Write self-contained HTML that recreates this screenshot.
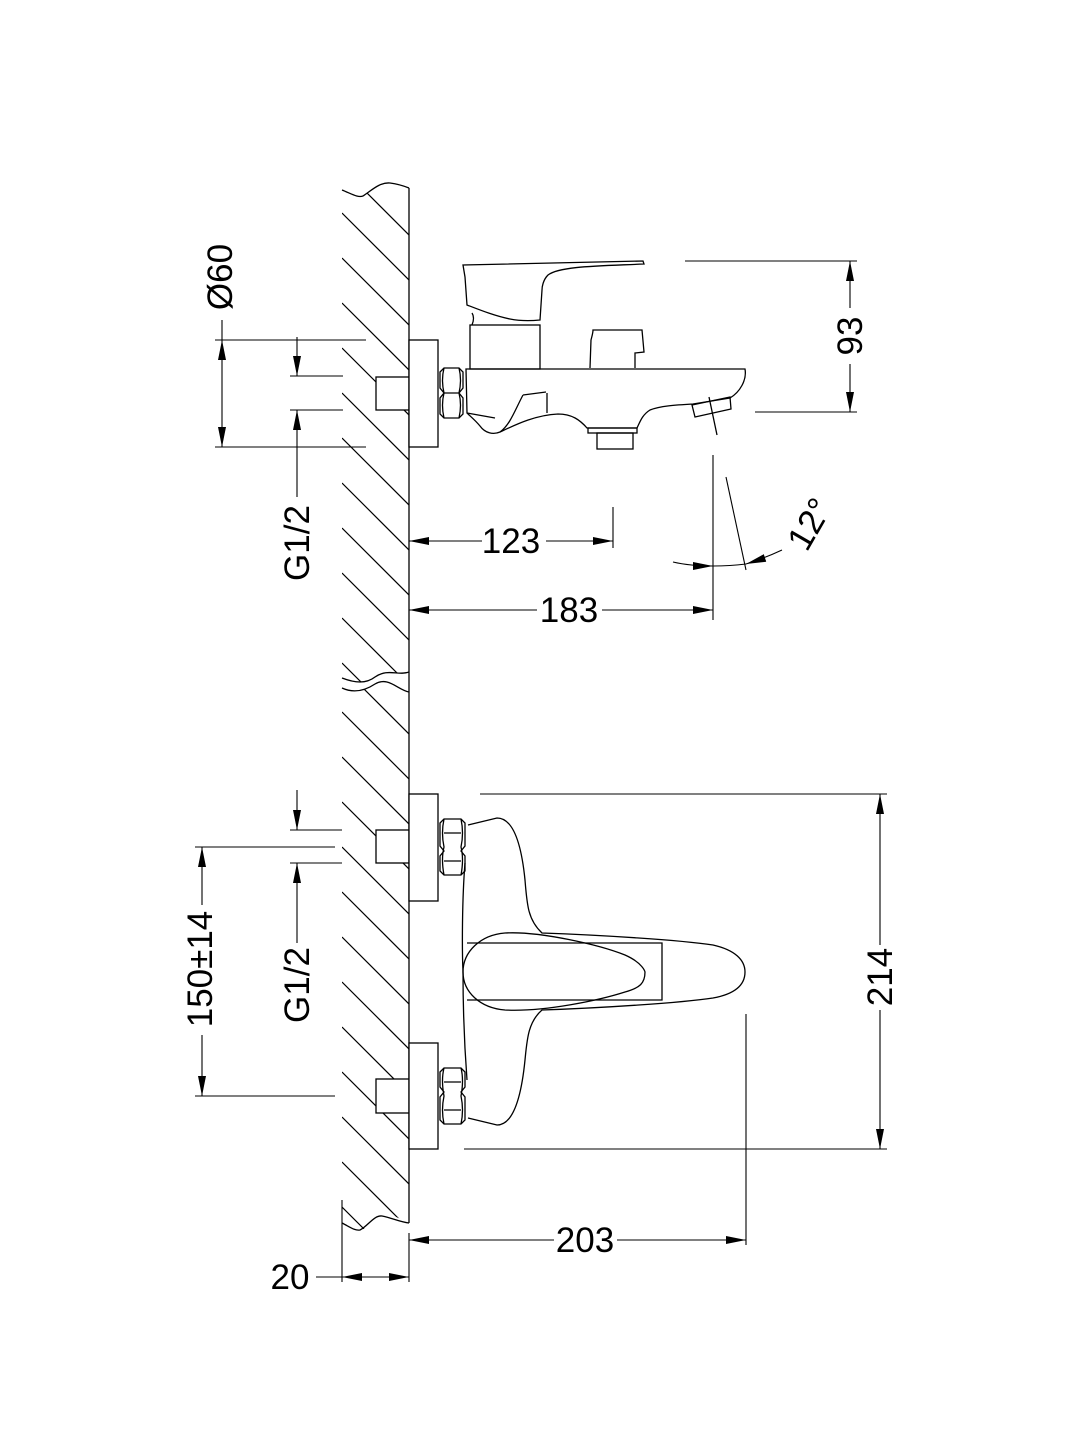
<!DOCTYPE html>
<html><head><meta charset="utf-8"><style>
html,body{margin:0;padding:0;background:#fff}
svg{display:block}
text{font-family:"Liberation Sans",Arial,sans-serif;font-size:35px;fill:#000}
</style></head><body>
<svg width="1080" height="1440" viewBox="0 0 1080 1440" xmlns="http://www.w3.org/2000/svg">
<defs>
<marker id="a" markerWidth="20" markerHeight="8" refX="20" refY="4" orient="auto" markerUnits="userSpaceOnUse"><path d="M0,0 L20,4 L0,8 Z" fill="#000"/></marker>
<marker id="s" markerWidth="20" markerHeight="8" refX="0" refY="4" orient="auto" markerUnits="userSpaceOnUse"><path d="M20,0 L0,4 L20,8 Z" fill="#000"/></marker>
<clipPath id="c1"><path d="M342,190 C352,194 358,198 363,196 C372,190 380,182 390,183 C398,184 404,186 409,188 L409,672 C398,676 388,668 375,677 C366,684 355,683 342,678 Z"/></clipPath>
<clipPath id="c2"><path d="M342,688 C355,694 366,690 375,684 C388,676 398,690 409,692 L409,1223 C398,1218 390,1212 380,1217 C370,1225 365,1232 355,1229 C350,1227 346,1224 342,1223 Z"/></clipPath>
</defs>
<g stroke="#000" stroke-width="1.3" fill="none">
<g clip-path="url(#c1)" stroke-width="1.2">
<path d="M342,168 l80,80 M342,213 l80,80 M342,258 l80,80 M342,303 l80,80 M342,348 l80,80 M342,393 l80,80 M342,438 l80,80 M342,483 l80,80 M342,528 l80,80 M342,573 l80,80 M342,618 l80,80 M342,663 l80,80"/>
</g>
<g clip-path="url(#c2)" stroke-width="1.2">
<path d="M342,667 l80,80 M342,712 l80,80 M342,757 l80,80 M342,802 l80,80 M342,847 l80,80 M342,892 l80,80 M342,937 l80,80 M342,982 l80,80 M342,1027 l80,80 M342,1072 l80,80 M342,1117 l80,80 M342,1162 l80,80 M342,1207 l80,80"/>
</g>
<path d="M342,190 C352,194 358,198 363,196 C372,190 380,182 390,183 C398,184 404,186 409,188"/>
<path d="M342,678 C355,683 366,684 375,677 C388,668 398,676 409,672"/>
<path d="M342,688 C355,694 366,690 375,684 C388,676 398,690 409,692"/>
<path d="M342,1223 C350,1227 355,1231 360,1230 C368,1226 374,1215 382,1216 C392,1218 400,1222 409,1223"/>
<path d="M409,188 V1223"/>

<rect x="376" y="377" width="33" height="33" fill="#fff"/>
<rect x="409" y="340" width="29" height="107" fill="#fff"/>
<path d="M440,372 l4,-4 h15 l4,4 v16 l-4,5 l4,5 v16 l-4,4 h-15 l-4,-4 v-16 l4,-5 l-4,-5 Z M444,368 q-3,12 0,25 q-3,12 0,25 M459,368 q3,12 0,25 q3,12 0,25 M444,393 h15"/>
<path d="M465,277 L463,265 L643,261 L644,264 C600,266 560,266 548,275 C543,280 542,287 542,290 L540,320 C530,321 520,321 510,319 C495,316 480,310 467,305 Z"/>
<path d="M472,313 C474,316 474,320 472,325"/>
<rect x="470" y="325" width="70" height="44"/>
<path d="M590,368 L591,340 C592,336 593,333 593,330 L642,330 L644,352 L635,353 L635,368"/>
<path d="M466,369 H745 C747,380 740,392 730,398 L693,404 C675,405 660,406 650,410 C642,415 640,422 637,428 L587,428 C580,420 572,414 558,414 C535,415 515,425 500,432 C493,435 485,433 480,426 C475,420 470,416 467,413 Z"/>
<path d="M467,413 L495,418"/>
<path d="M523,395 L546,392 M547,393 V413 M523,395 C515,410 510,425 500,432"/>
<rect x="588" y="428" width="49" height="5"/>
<rect x="597" y="433" width="36" height="16"/>
<path d="M692,405 L730,397 L731,409 L695,417 Z"/>
<path d="M709,397 L717,435"/>
<g stroke-width="1.1">
<path d="M215,340 H366 M215,447 H366 M430,340 H409 M222,320 V340"/>
<path d="M222,340 V447" marker-start="url(#s)" marker-end="url(#a)"/>
<path d="M290,376 H343 M290,410 H343"/>
<path d="M297,337 V376" marker-end="url(#a)"/>
<path d="M297,497 V410" marker-end="url(#a)"/>
<path d="M613,507 V548 M713,455 V620"/>
<path d="M409,541 H482" marker-start="url(#s)"/>
<path d="M546,541 H613" marker-end="url(#a)"/>
<path d="M409,610 H537" marker-start="url(#s)"/>
<path d="M602,610 H713" marker-end="url(#a)"/>
<path d="M685,261 H857 M755,412 H857"/>
<path d="M850,261 V308" marker-start="url(#s)"/>
<path d="M850,364 V412" marker-end="url(#a)"/>
<path d="M726,477 L746,570"/>
<path d="M673,562 Q690,566 713,566" marker-end="url(#a)"/>
<path d="M782,550 Q765,558 746,564" marker-end="url(#a)"/>
<path d="M713,566 Q730,566 746,564"/>
</g>

<rect x="376" y="830" width="33" height="33" fill="#fff"/>
<rect x="376" y="1079" width="33" height="34" fill="#fff"/>
<rect x="409" y="794" width="29" height="107" fill="#fff"/>
<rect x="409" y="1043" width="29" height="106" fill="#fff"/>
<path d="M440,823 l4,-4 h17 l4,4 v23 l-4,5 l4,5 v15 l-4,4 h-17 l-4,-4 v-15 l4,-5 l-4,-5 Z M444,819 q-3,14 0,28 q-3,12 0,28 M461,819 q3,14 0,28 q3,12 0,28 M444,833 h17 M444,861 h17"/>
<path d="M440,1072 l4,-4 h17 l4,4 v15 l-4,5 l4,5 v23 l-4,4 h-17 l-4,-4 v-23 l4,-5 l-4,-5 Z M444,1068 q-3,12 0,28 q-3,14 0,28 M461,1068 q3,12 0,28 q3,14 0,28 M444,1082 h17 M444,1110 h17"/>
<path d="M468,825 L497,818 C515,818 522,850 525,880 C527,905 528,920 542,933 C600,935 680,940 713,945 C735,950 745,960 745,972 C745,985 735,994 713,998 C680,1003 600,1008 542,1010 C528,1022 527,1040 525,1060 C522,1090 515,1125 497,1125 L468,1118"/>
<path d="M465,863 C462,900 462,950 463,972 C463,1000 464,1040 467,1080"/>
<path d="M467,943 H662 V1000 H467"/>
<path d="M505,933 C540,931 600,945 625,955 C643,963 645,972 645,972 C645,983 640,988 625,992 C600,1000 545,1012 505,1010 C480,1008 463,992 463,972 C463,952 480,935 505,933 Z"/>
<g stroke-width="1.1">
<path d="M480,794 H887 M464,1149 H887 M746,1014 V1245"/>
<path d="M880,794 V945" marker-start="url(#s)"/>
<path d="M880,1010 V1149" marker-end="url(#a)"/>
<path d="M409,1240 H554" marker-start="url(#s)"/>
<path d="M617,1240 H746" marker-end="url(#a)"/>
<path d="M342,1200 V1282 M409,1233 V1282"/>
<path d="M316,1277 H342"/>
<path d="M342,1277 H409" marker-start="url(#s)" marker-end="url(#a)"/>
<path d="M195,847 H335 M195,1096 H335"/>
<path d="M202,847 V905" marker-start="url(#s)"/>
<path d="M202,1035 V1096" marker-end="url(#a)"/>
<path d="M290,830 H342 M290,863 H342"/>
<path d="M297,790 V830" marker-end="url(#a)"/>
<path d="M297,943 V863" marker-end="url(#a)"/>
</g>
</g>
<text x="511" y="553" text-anchor="middle">123</text>
<text x="569" y="622" text-anchor="middle">183</text>
<text x="585" y="1252" text-anchor="middle">203</text>
<text x="290" y="1289" text-anchor="middle">20</text>
<text transform="translate(232,277) rotate(-90)" text-anchor="middle">Ø60</text>
<text transform="translate(309,543) rotate(-90)" text-anchor="middle">G1/2</text>
<text transform="translate(309,985) rotate(-90)" text-anchor="middle">G1/2</text>
<text transform="translate(212,969) rotate(-90)" text-anchor="middle">150±14</text>
<text transform="translate(862,336) rotate(-90)" text-anchor="middle">93</text>
<text transform="translate(892,977) rotate(-90)" text-anchor="middle">214</text>
<text transform="translate(820,530) rotate(-60)" text-anchor="middle">12°</text>
</svg>
</body></html>
